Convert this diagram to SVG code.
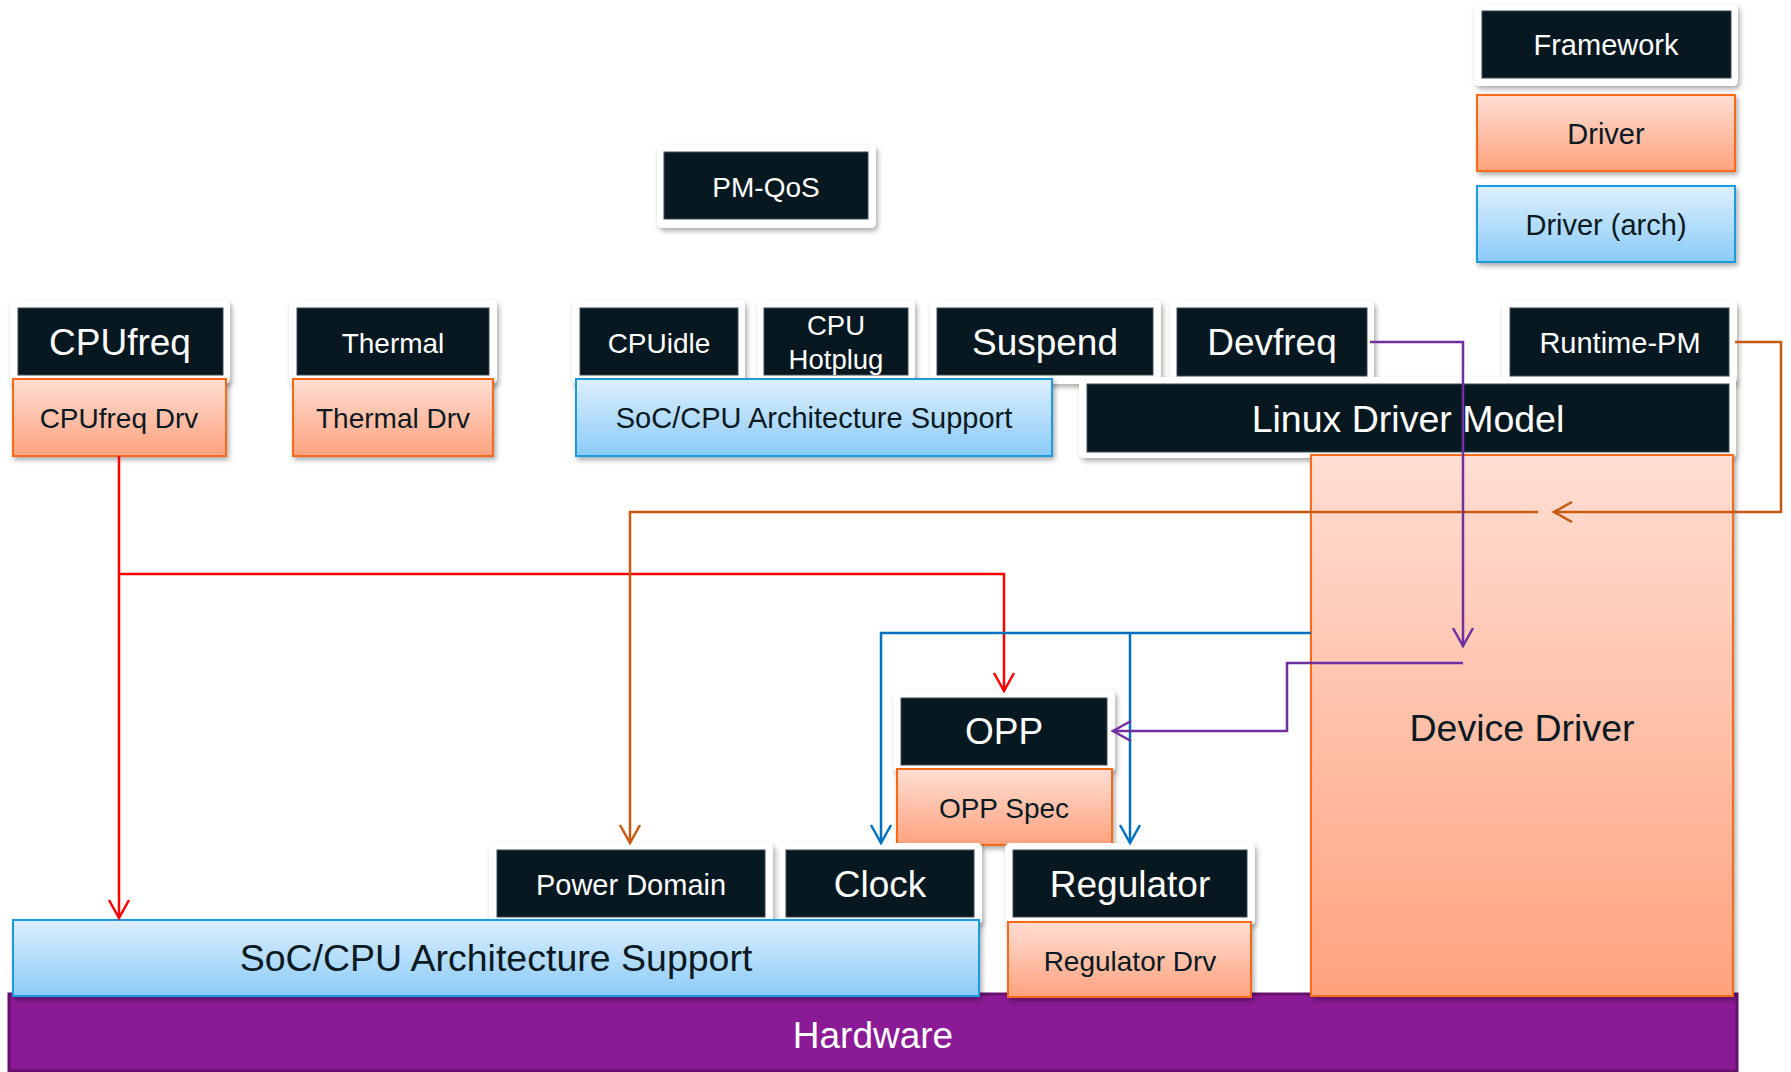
<svg xmlns="http://www.w3.org/2000/svg" width="1791" height="1072" viewBox="0 0 1791 1072">
  <defs>
    <linearGradient id="gDrv" x1="0" y1="0" x2="0" y2="1">
      <stop offset="0" stop-color="#FFDED3"/>
      <stop offset="1" stop-color="#FFA27E"/>
    </linearGradient>
    <linearGradient id="gArch" x1="0" y1="0" x2="0" y2="1">
      <stop offset="0" stop-color="#DDEFFD"/>
      <stop offset="1" stop-color="#8BCBF8"/>
    </linearGradient>
    <filter id="shadow" x="-10%" y="-20%" width="125%" height="150%">
      <feDropShadow dx="2" dy="3" stdDeviation="2.5" flood-color="#000" flood-opacity="0.33"/>
    </filter>
    <marker id="arRed" viewBox="-20 -12 24 24" refX="0" refY="0" markerWidth="24" markerHeight="24" markerUnits="userSpaceOnUse" orient="auto">
      <path d="M -18 -10 L 0 0 L -18 10" fill="none" stroke="#FF0000" stroke-width="2.5"/>
    </marker>
    <marker id="arOrange" viewBox="-20 -12 24 24" refX="0" refY="0" markerWidth="24" markerHeight="24" markerUnits="userSpaceOnUse" orient="auto">
      <path d="M -18 -10 L 0 0 L -18 10" fill="none" stroke="#C55A11" stroke-width="2.5"/>
    </marker>
    <marker id="arBlue" viewBox="-20 -12 24 24" refX="0" refY="0" markerWidth="24" markerHeight="24" markerUnits="userSpaceOnUse" orient="auto">
      <path d="M -18 -10 L 0 0 L -18 10" fill="none" stroke="#0070C0" stroke-width="2.5"/>
    </marker>
    <marker id="arPurple" viewBox="-20 -12 24 24" refX="0" refY="0" markerWidth="24" markerHeight="24" markerUnits="userSpaceOnUse" orient="auto">
      <path d="M -18 -10 L 0 0 L -18 10" fill="none" stroke="#7030A0" stroke-width="2.5"/>
    </marker>
  </defs>
  <style>
    text { font-family: "Liberation Sans", Arial, sans-serif; text-anchor: middle; }
    .frame { fill: #FFFFFF; filter: url(#shadow); }
    .dark { fill: #081821; stroke: #3E4C55; stroke-width: 1; }
    .drv { fill: url(#gDrv); stroke: #F86A14; stroke-width: 2; filter: url(#shadow); }
    .arch { fill: url(#gArch); stroke: #1E9BE0; stroke-width: 2; filter: url(#shadow); }
    .hw { fill: #8A1A95; stroke: #64106C; stroke-width: 3; }
    .lt { fill: #FFFFFF; }
    .dt { fill: #0A1922; }
    .s28 { font-size: 28px; }
    .s29 { font-size: 29px; }
    .s37 { font-size: 37px; }
    .s38 { font-size: 37.5px; }
    .conn { fill: none; stroke-width: 2.5; }
    .red { stroke: #FF0000; }
    .orange { stroke: #C55A11; }
    .blue { stroke: #0070C0; }
    .purple { stroke: #7030A0; }
  </style>

  <rect width="1791" height="1072" fill="#FFFFFF"/>

  <!-- legend -->
  <g id="legend-framework">
    <rect class="frame" x="1474" y="4" width="264" height="82" rx="5"/>
    <rect class="dark" x="1482" y="11" width="249" height="67"/>
    <text class="lt s29" x="1606" y="55">Framework</text>
  </g>
  <g id="legend-driver">
    <rect class="drv" x="1477" y="95" width="258" height="76"/>
    <text class="dt s29" x="1606" y="144">Driver</text>
  </g>
  <g id="legend-driver-arch">
    <rect class="arch" x="1477" y="186" width="258" height="76"/>
    <text class="dt s29" x="1606" y="235">Driver (arch)</text>
  </g>

  <!-- hardware base -->
  <g id="hardware">
    <rect class="hw" x="9" y="994" width="1728" height="77"/>
    <text class="lt" x="873" y="1048" font-size="37">Hardware</text>
  </g>

  <g id="pm-qos">
    <rect class="frame" x="657" y="145" width="219" height="83" rx="5"/>
    <rect class="dark" x="664" y="152" width="204" height="67"/>
    <text class="lt s28" x="766" y="197">PM-QoS</text>
  </g>

  <!-- top framework row -->
  <g id="cpufreq">
    <rect class="frame" x="10" y="300" width="220" height="84" rx="5"/>
    <rect class="dark" x="18" y="308" width="205" height="67"/>
    <text class="lt s37" x="120" y="355">CPUfreq</text>
  </g>
  <g id="thermal">
    <rect class="frame" x="289" y="300" width="208" height="84" rx="5"/>
    <rect class="dark" x="297" y="308" width="192" height="67"/>
    <text class="lt s28" x="393" y="353">Thermal</text>
  </g>
  <g id="cpuidle">
    <rect class="frame" x="572" y="300" width="173" height="84" rx="5"/>
    <rect class="dark" x="580" y="308" width="158" height="67"/>
    <text class="lt s28" x="659" y="353">CPUidle</text>
  </g>
  <g id="cpu-hotplug">
    <rect class="frame" x="757" y="300" width="158" height="84" rx="5"/>
    <rect class="dark" x="764" y="308" width="144" height="67"/>
    <text class="lt" font-size="27.5" x="836" y="335">CPU</text>
    <text class="lt" font-size="27.5" x="836" y="369">Hotplug</text>
  </g>
  <g id="suspend">
    <rect class="frame" x="930" y="300" width="231" height="84" rx="5"/>
    <rect class="dark" x="937" y="308" width="216" height="67"/>
    <text class="lt s37" x="1045" y="355">Suspend</text>
  </g>
  <g id="devfreq">
    <rect class="frame" x="1170" y="301" width="204" height="83" rx="5"/>
    <rect class="dark" x="1177" y="308" width="190" height="68"/>
    <text class="lt s37" x="1272" y="355">Devfreq</text>
  </g>
  <g id="runtime-pm">
    <rect class="frame" x="1502" y="301" width="235" height="83" rx="5"/>
    <rect class="dark" x="1510" y="308" width="219" height="68"/>
    <text class="lt s29" x="1620" y="353">Runtime-PM</text>
  </g>

  <!-- second row -->
  <g id="cpufreq-drv">
    <rect class="drv" x="13" y="379" width="213" height="77"/>
    <text class="dt s28" x="119" y="428">CPUfreq Drv</text>
  </g>
  <g id="thermal-drv">
    <rect class="drv" x="293" y="379" width="200" height="77"/>
    <text class="dt s28" x="393" y="428">Thermal Drv</text>
  </g>
  <g id="soc-arch-top">
    <rect class="arch" x="576" y="379" width="476" height="77"/>
    <text class="dt s29" x="814" y="428">SoC/CPU Architecture Support</text>
  </g>
  <g id="linux-driver-model">
    <rect class="frame" x="1079" y="377" width="657" height="81" rx="5"/>
    <rect class="dark" x="1087" y="384" width="642" height="68"/>
    <text class="lt s38" x="1408" y="432">Linux Driver Model</text>
  </g>
  <g id="device-driver">
    <rect class="drv" x="1311" y="455" width="422" height="541"/>
    <text class="dt s38" x="1522" y="741">Device Driver</text>
  </g>

  <!-- OPP -->
  <g id="opp">
    <rect class="frame" x="893" y="690" width="222" height="82" rx="5"/>
    <rect class="dark" x="901" y="698" width="206" height="67"/>
    <text class="lt s37" x="1004" y="744">OPP</text>
  </g>
  <g id="opp-spec">
    <rect class="drv" x="897" y="769" width="215" height="76"/>
    <text class="dt s28" x="1004" y="818">OPP Spec</text>
  </g>

  <!-- bottom frameworks -->
  <g id="power-domain">
    <rect class="frame" x="489" y="843" width="284" height="82" rx="5"/>
    <rect class="dark" x="497" y="850" width="268" height="67"/>
    <text class="lt s29" x="631" y="895">Power Domain</text>
  </g>
  <g id="clock">
    <rect class="frame" x="779" y="843" width="203" height="82" rx="5"/>
    <rect class="dark" x="786" y="850" width="188" height="67"/>
    <text class="lt s37" x="880" y="897">Clock</text>
  </g>
  <g id="regulator">
    <rect class="frame" x="1005" y="843" width="250" height="82" rx="5"/>
    <rect class="dark" x="1013" y="850" width="234" height="67"/>
    <text class="lt s37" x="1130" y="897">Regulator</text>
  </g>
  <g id="regulator-drv">
    <rect class="drv" x="1008" y="922" width="243" height="75"/>
    <text class="dt s28" x="1130" y="971">Regulator Drv</text>
  </g>
  <g id="soc-arch-bottom">
    <rect class="arch" x="13" y="920" width="966" height="76"/>
    <text class="dt s38" x="496" y="971">SoC/CPU Architecture Support</text>
  </g>

  <!-- connectors -->
  <g id="connectors">
    <path class="conn red" d="M 119 456 L 119 918" marker-end="url(#arRed)"/>
    <path class="conn red" d="M 119 574 L 1004 574 L 1004 691" marker-end="url(#arRed)"/>
    <path class="conn orange" d="M 1735 342 L 1781 342 L 1781 512 L 1554 512" marker-end="url(#arOrange)"/>
    <path class="conn orange" d="M 1538 512 L 630 512 L 630 843" marker-end="url(#arOrange)"/>
    <path class="conn blue" d="M 1311 633 L 881 633 L 881 843" marker-end="url(#arBlue)"/>
    <path class="conn blue" d="M 1130 633 L 1130 843" marker-end="url(#arBlue)"/>
    <path class="conn purple" d="M 1370 342 L 1463 342 L 1463 646" marker-end="url(#arPurple)"/>
    <path class="conn purple" d="M 1463 663 L 1287 663 L 1287 731 L 1113 731" marker-end="url(#arPurple)"/>
  </g>
</svg>
